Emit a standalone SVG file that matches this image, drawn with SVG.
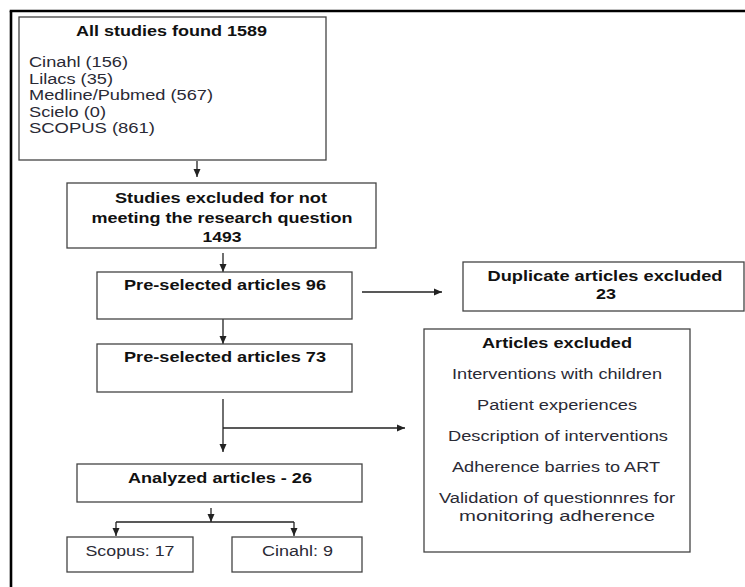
<svg xmlns="http://www.w3.org/2000/svg" width="745" height="587" viewBox="0 0 745 587">
<style>
  .box { fill: #ffffff; stroke: #444444; stroke-width: 1.3; }
  .frame { stroke: #000000; stroke-width: 2.6; fill: none; }
  .conn { stroke: #222222; stroke-width: 1.3; fill: none; }
  .b { font-family: "Liberation Sans", Arial, sans-serif; font-weight: bold; font-size: 15.5px; fill: #111111; }
  .r { font-family: "Liberation Sans", Arial, sans-serif; font-size: 15.5px; fill: #2a2a35; }
  .c { text-anchor: middle; }
</style>
<defs>
  <marker id="arr" markerUnits="userSpaceOnUse" markerWidth="9" markerHeight="9" refX="8" refY="4.5" orient="auto">
    <path d="M0,1 L8,4.5 L0,8 Z" fill="#222222"/>
  </marker>
</defs>
<rect width="745" height="587" fill="#ffffff"/>
<g id="frame">
  <line class="frame" x1="9.7" y1="11" x2="745" y2="11"/>
  <line class="frame" x1="11" y1="11" x2="11" y2="587"/>
</g>
<g id="connectors">
  <line class="conn" x1="197" y1="161" x2="197" y2="177" marker-end="url(#arr)"/>
  <line class="conn" x1="223" y1="253" x2="223" y2="272" marker-end="url(#arr)"/>
  <line class="conn" x1="223" y1="319" x2="223" y2="344" marker-end="url(#arr)"/>
  <line class="conn" x1="362" y1="292" x2="442" y2="292" marker-end="url(#arr)"/>
  <line class="conn" x1="223" y1="399" x2="223" y2="452" marker-end="url(#arr)"/>
  <line class="conn" x1="223" y1="428" x2="405" y2="428" marker-end="url(#arr)"/>
  <line class="conn" x1="211" y1="508" x2="211" y2="522" marker-end="url(#arr)"/>
  <line class="conn" x1="116" y1="522" x2="294" y2="522"/>
  <line class="conn" x1="116" y1="522" x2="116" y2="536" marker-end="url(#arr)"/>
  <line class="conn" x1="294" y1="522" x2="294" y2="536" marker-end="url(#arr)"/>
</g>
<g id="all-studies">
  <rect class="box" x="19" y="17" width="307" height="143"/>
  <text class="b c" x="171.5" y="36" textLength="191" lengthAdjust="spacingAndGlyphs">All studies found 1589</text>
  <text class="r" x="29" y="67" textLength="99" lengthAdjust="spacingAndGlyphs">Cinahl (156)</text>
  <text class="r" x="29" y="83.5" textLength="84" lengthAdjust="spacingAndGlyphs">Lilacs (35)</text>
  <text class="r" x="29" y="100" textLength="184" lengthAdjust="spacingAndGlyphs">Medline/Pubmed (567)</text>
  <text class="r" x="29" y="116.5" textLength="77" lengthAdjust="spacingAndGlyphs">Scielo (0)</text>
  <text class="r" x="29" y="133" textLength="126" lengthAdjust="spacingAndGlyphs">SCOPUS (861)</text>
</g>
<g id="excluded-research">
  <rect class="box" x="67" y="183" width="309" height="65"/>
  <text class="b c" x="221" y="203" textLength="212" lengthAdjust="spacingAndGlyphs">Studies excluded for not</text>
  <text class="b c" x="222" y="223" textLength="261" lengthAdjust="spacingAndGlyphs">meeting the research question</text>
  <text class="b c" x="222" y="242" textLength="39" lengthAdjust="spacingAndGlyphs">1493</text>
</g>
<g id="preselected-96">
  <rect class="box" x="97" y="272" width="255" height="47"/>
  <text class="b c" x="225" y="290" textLength="202" lengthAdjust="spacingAndGlyphs">Pre-selected articles 96</text>
</g>
<g id="preselected-73">
  <rect class="box" x="97" y="344" width="255" height="48"/>
  <text class="b c" x="225" y="362" textLength="202" lengthAdjust="spacingAndGlyphs">Pre-selected articles 73</text>
</g>
<g id="duplicates">
  <rect class="box" x="463" y="262" width="281" height="49"/>
  <text class="b c" x="605" y="281" textLength="235" lengthAdjust="spacingAndGlyphs">Duplicate articles excluded</text>
  <text class="b c" x="606" y="299" textLength="20" lengthAdjust="spacingAndGlyphs">23</text>
</g>
<g id="articles-excluded">
  <rect class="box" x="424" y="329" width="266" height="223"/>
  <text class="b c" x="557" y="348" textLength="150" lengthAdjust="spacingAndGlyphs">Articles excluded</text>
  <text class="r c" x="557" y="379" textLength="210" lengthAdjust="spacingAndGlyphs">Interventions with children</text>
  <text class="r c" x="557" y="410" textLength="160" lengthAdjust="spacingAndGlyphs">Patient experiences</text>
  <text class="r c" x="558" y="441" textLength="220" lengthAdjust="spacingAndGlyphs">Description of interventions</text>
  <text class="r c" x="556" y="472" textLength="208" lengthAdjust="spacingAndGlyphs">Adherence barries to ART</text>
  <text class="r c" x="557" y="503" textLength="236" lengthAdjust="spacingAndGlyphs">Validation of questionnres for</text>
  <text class="r c" x="557" y="521" textLength="196" lengthAdjust="spacingAndGlyphs">monitoring adherence</text>
</g>
<g id="analyzed">
  <rect class="box" x="77" y="464" width="285" height="38"/>
  <text class="b c" x="220" y="483" textLength="184" lengthAdjust="spacingAndGlyphs">Analyzed articles - 26</text>
</g>
<g id="scopus">
  <rect class="box" x="67" y="537" width="126" height="35"/>
  <text class="r c" x="130" y="556" textLength="89" lengthAdjust="spacingAndGlyphs">Scopus: 17</text>
</g>
<g id="cinahl">
  <rect class="box" x="232" y="537" width="130" height="35"/>
  <text class="r c" x="297.5" y="556" textLength="71" lengthAdjust="spacingAndGlyphs">Cinahl: 9</text>
</g>
</svg>
